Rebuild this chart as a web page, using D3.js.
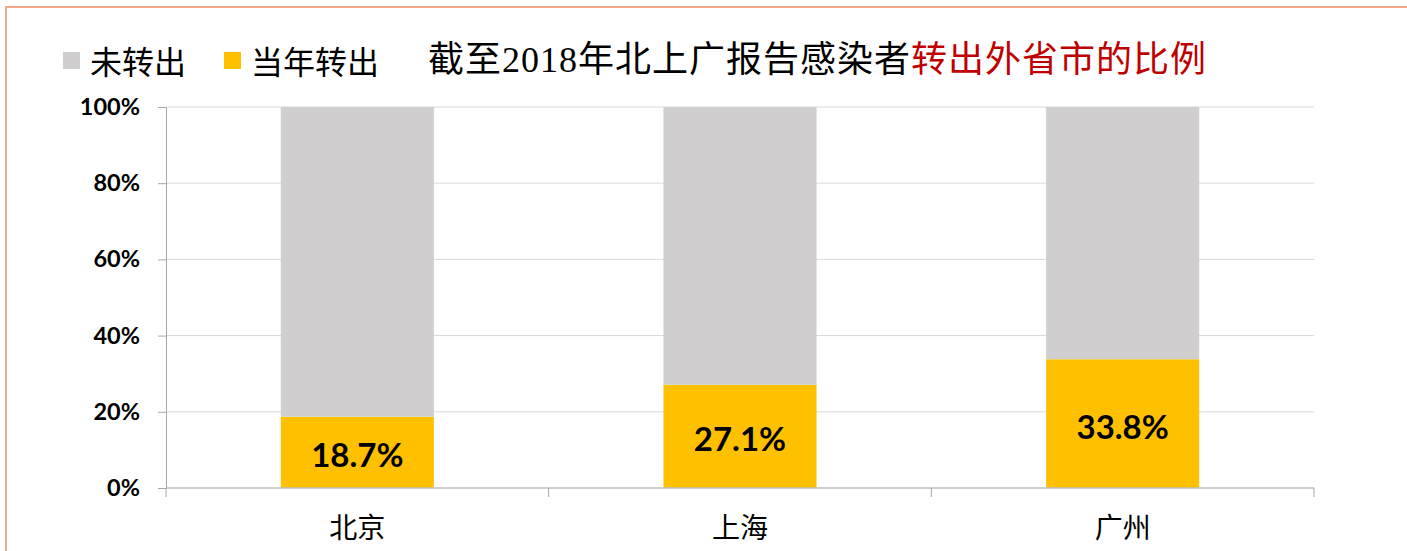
<!DOCTYPE html>
<html>
<head>
<meta charset="utf-8">
<script src="https://cdn.jsdelivr.net/npm/d3@7"></script>
<style>
  html, body { margin: 0; padding: 0; background: #fff; }
  svg { display: block; }
</style>
</head>
<body>
<div id="chart"></div>
<script>
// Share of reported cases transferred out of the city, by city (percent)
const cities = ["北京", "上海", "广州"];
const transferred = [18.7, 27.1, 33.8];
const notTransferred = transferred.map(v => 100 - v);
const yTicks = [0, 20, 40, 60, 80, 100];
const legendLabels = ["未转出", "当年转出"];
const titleBlack = "截至2018年北上广报告感染者";
const titleRed = "转出外省市的比例";

const W = 1407, H = 551;
const colors = { rest: "#D0CECE", moved: "#FFC000" };
const margin = { left: 166, right: 93, top: 107, bottom: 63 };

const svg = d3.select("#chart").append("svg")
  .attr("width", W).attr("height", H);

svg.append("rect").attr("width", W).attr("height", H).attr("fill", "#fff");

// frame
svg.append("path")
  .attr("d", `M6,${H} L6,7 L${W},7`)
  .attr("fill", "none")
  .attr("stroke", "#F4A68B")
  .attr("stroke-width", 2);

const x = d3.scaleBand()
  .domain(cities)
  .range([margin.left, W - margin.right])
  .paddingInner(0.6)
  .paddingOuter(0.3);

const y = d3.scaleLinear()
  .domain([0, 100])
  .range([H - margin.bottom, margin.top]);

// gridlines
svg.append("g")
  .selectAll("line")
  .data(yTicks.filter(t => t > 0))
  .join("line")
  .attr("x1", margin.left).attr("x2", W - margin.right)
  .attr("y1", d => y(d)).attr("y2", d => y(d))
  .attr("stroke", "#D9D9D9").attr("stroke-width", 1);

// y axis
const yAxis = svg.append("g")
  .attr("transform", `translate(${margin.left},0)`)
  .call(d3.axisLeft(y).tickValues(yTicks).tickSize(8).tickPadding(18).tickFormat(d => d + "%"));
yAxis.select(".domain").attr("stroke", "#A6A6A6");
yAxis.selectAll(".tick line").attr("stroke", "#A6A6A6");
yAxis.selectAll(".tick text")
  .attr("font-family", "Lato, 'Open Sans', sans-serif")
  .attr("font-weight", "bold")
  .attr("font-size", 23.5)
  .attr("fill", "#000");

// stacked bars
const stackData = cities.map((c, i) => ({ city: c, moved: transferred[i], rest: notTransferred[i] }));
const series = d3.stack().keys(["moved", "rest"])(stackData);

svg.append("g")
  .selectAll("g")
  .data(series)
  .join("g")
  .attr("fill", d => colors[d.key])
  .selectAll("rect")
  .data(d => d)
  .join("rect")
  .attr("x", d => x(d.data.city))
  .attr("width", x.bandwidth())
  .attr("y", d => y(d[1]))
  .attr("height", d => y(d[0]) - y(d[1]));

// x axis with boundary ticks between categories
const xAxisG = svg.append("g");
xAxisG.append("line")
  .attr("x1", margin.left).attr("x2", W - margin.right)
  .attr("y1", y(0)).attr("y2", y(0))
  .attr("stroke", "#BFBFBF").attr("stroke-width", 1.5);
const boundaries = d3.range(cities.length + 1).map(i => margin.left + i * x.step());
xAxisG.selectAll("line.bound")
  .data(boundaries)
  .join("line")
  .attr("class", "bound")
  .attr("x1", d => d).attr("x2", d => d)
  .attr("y1", y(0)).attr("y2", y(0) + 9)
  .attr("stroke", "#A6A6A6");
xAxisG.selectAll("text")
  .data(cities)
  .join("text")
  .attr("x", d => x(d) + x.bandwidth() / 2)
  .attr("y", 526)
  .attr("text-anchor", "middle")
  .attr("dominant-baseline", "central")
  .attr("font-family", "'Noto Sans CJK SC', sans-serif")
  .attr("font-size", 28)
  .attr("fill", "#000")
  .text(d => d);

// value labels inside the yellow segments
svg.append("g")
  .selectAll("text")
  .data(stackData)
  .join("text")
  .attr("x", d => x(d.city) + x.bandwidth() / 2)
  .attr("y", d => (y(0) + y(d.moved)) / 2 + 2)
  .attr("text-anchor", "middle")
  .attr("dominant-baseline", "central")
  .attr("font-family", "Lato, 'Open Sans', sans-serif")
  .attr("font-weight", "bold")
  .attr("font-size", 33)
  .attr("fill", "#000")
  .text(d => d.moved.toFixed(1) + "%");

// legend
const legendItems = [
  { label: legendLabels[0], color: colors.rest, x: 63 },
  { label: legendLabels[1], color: colors.moved, x: 224 }
];
const lg = svg.append("g").selectAll("g").data(legendItems).join("g")
  .attr("transform", d => `translate(${d.x},0)`);
lg.append("rect").attr("x", 0).attr("y", 52).attr("width", 17).attr("height", 17)
  .attr("fill", d => d.color);
lg.append("text")
  .attr("x", 27).attr("y", 60)
  .attr("dominant-baseline", "central")
  .attr("font-family", "'Noto Sans CJK SC', sans-serif")
  .attr("font-size", 32)
  .attr("fill", "#000")
  .text(d => d.label);

// title
const title = svg.append("text")
  .attr("x", 428).attr("y", 60)
  .attr("dominant-baseline", "central")
  .attr("font-family", "'Liberation Serif', 'Noto Sans CJK SC', serif")
  .attr("font-size", 36)
  .attr("letter-spacing", 1);
title.append("tspan").attr("fill", "#000").text(titleBlack);
title.append("tspan").attr("fill", "#C00000").text(titleRed);
</script>
</body>
</html>
